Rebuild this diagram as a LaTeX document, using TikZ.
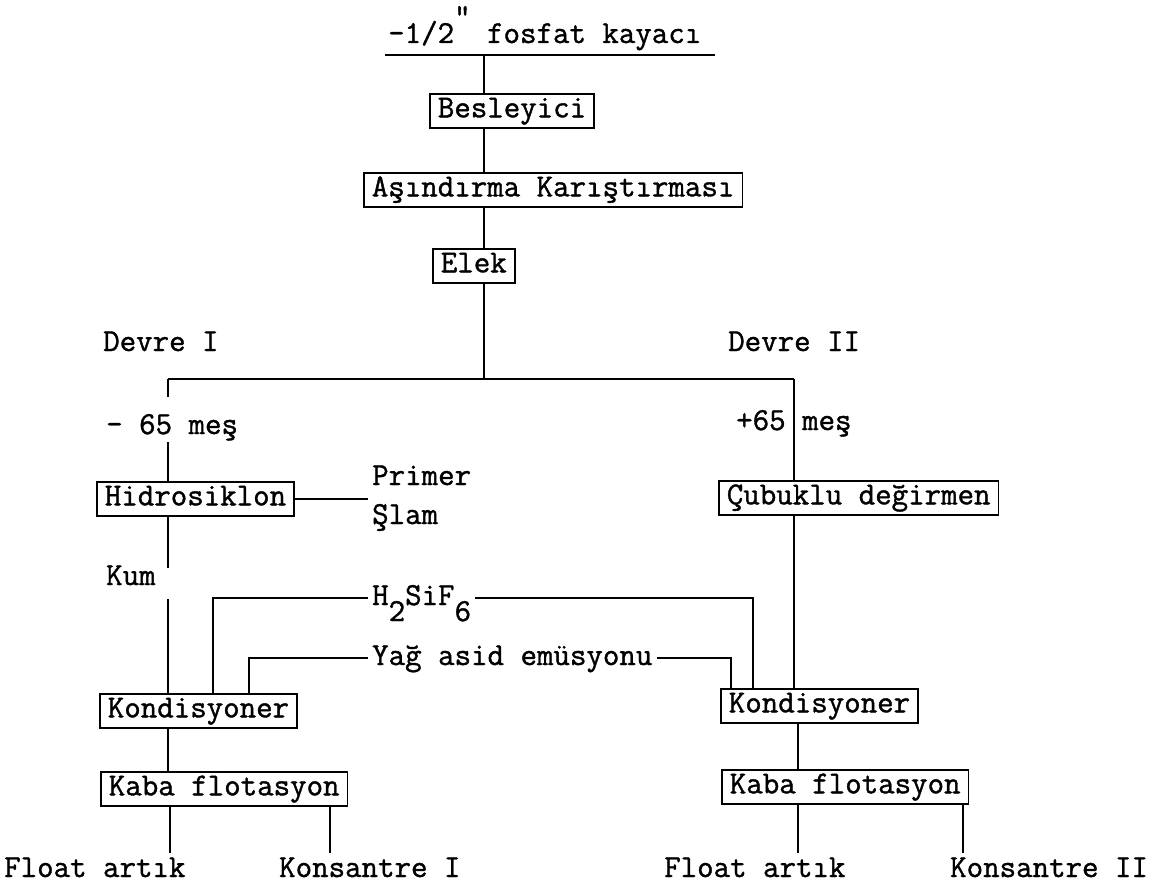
\documentclass[tikz,border=0pt]{standalone}
\usepackage{fontspec}
\newfontfamily\tw[BoldFont={Latin Modern Mono}, BoldFeatures={FakeBold=1.2}]{Latin Modern Mono}
\begin{document}
\begin{tikzpicture}[x=1pt,y=-1pt,
  every node/.style={font=\tw\bfseries\fontsize{32}{34}\selectfont, inner sep=0pt},
  box/.style={draw, line width=1.7pt, inner xsep=8pt, inner ysep=0pt, minimum height=34pt, text height=20pt, text depth=7pt},
  lbl/.style={inner xsep=4pt, inner ysep=0pt, text height=20pt, text depth=6pt},
  outlbl/.style={anchor=base west, inner sep=0pt, text height=24pt, text depth=6pt},
  ln/.style={line width=1.7pt}]
\useasboundingbox (0,0) rectangle (1161,885);
% column coordinates
\coordinate (cM) at (484,0);
\coordinate (cL) at (168,0);
\coordinate (cR) at (794,0);
\coordinate (cR2) at (798,0);
\coordinate (oL1) at (170,0);
\coordinate (oL2) at (330,0);
\coordinate (oR2) at (963,0);
\coordinate (hL) at (213,0);
\coordinate (yL) at (249,0);
\coordinate (hR) at (753,0);
\coordinate (yR) at (731,0);
% title
\node[anchor=base west] (title) at (388,43) {-1/2\raisebox{17pt}{"} fosfat kayacı};
\coordinate (ulL) at (385,55);
\coordinate (ulR) at (715,55);
\draw[ln] (ulL) -- (ulR);
% main column
\node[box, anchor=north west] (besl) at (429,93) {Besleyici};
\node[box, anchor=north west] (asin) at (363,172) {Aşındırma Karıştırması};
\node[box, anchor=north west] (elek) at (432,248) {Elek};
\draw[ln] (ulL -| cM) -- (besl.north -| cM);
\draw[ln] (besl.south -| cM) -- (asin.north -| cM);
\draw[ln] (asin.south -| cM) -- (elek.north -| cM);
% branch
\coordinate (brL) at (168,379);
\coordinate (brR) at (794,379);
\draw[ln] (elek.south -| cM) -- (brL -| cM);
\draw[ln] (brL) -- (brR);
\node[lbl, anchor=west, inner xsep=0pt] (dv1) at (103,344) {Devre I};
\node[lbl, anchor=west, inner xsep=0pt] (dv2) at (728,344) {Devre II};
% left circuit
\node[anchor=base west, inner xsep=0pt, inner ysep=2pt, text height=35pt, text depth=6pt] (m65) at (106,434) {- 65 meş};
\node[box, anchor=north west] (hid) at (96,481) {Hidrosiklon};
\draw[ln] (brL) -- (m65.north -| cL);
\draw[ln] (m65.south -| cL) -- (hid.north -| cL);
\node[lbl, anchor=west] (prim) at (368,478) {Primer};
\node[lbl, anchor=west] (slam) at (368,517) {Şlam};
\draw[ln] (hid.east) -- (hid.east -| prim.west);
\node[anchor=base west, text height=17pt, text depth=14pt] (kum) at (106,585) {Kum};
\node[box, anchor=north west] (kondL) at (99,693) {Kondisyoner};
\node[box, anchor=north west] (kabaL) at (100,771) {Kaba flotasyon};
\draw[ln] (hid.south -| cL) -- (kum.north -| cL);
\draw[ln] (kum.south -| cL) -- (kondL.north -| cL);
\draw[ln] (kondL.south -| cL) -- (kabaL.north -| cL);
\node[outlbl] (fL) at (4,877) {Float artık};
\node[outlbl] (kL) at (279,877) {Konsantre I};
\draw[ln] (kabaL.south -| oL1) -- (fL.north -| oL1);
\draw[ln] (kabaL.south -| oL2) -- (kL.north -| oL2);
% right circuit
\node[lbl, anchor=west, inner xsep=0pt] (p65) at (736,423) {+65 meş};
\node[box, anchor=north west] (cub) at (718,480) {Çubuklu değirmen};
\node[box, anchor=north west] (kondR) at (720,688) {Kondisyoner};
\node[box, anchor=north west] (kabaR) at (721,769) {Kaba flotasyon};
\draw[ln] (brR) -- (cub.north -| cR);
\draw[ln] (cub.south -| cR) -- (kondR.north -| cR);
\draw[ln] (kondR.south -| cR2) -- (kabaR.north -| cR2);
\node[outlbl] (fR) at (664,877) {Float artık};
\node[outlbl] (kR) at (950,877) {Konsantre II};
\draw[ln] (kabaR.south -| cR2) -- (fR.north -| cR2);
\draw[ln] (kabaR.south -| oR2) -- (kR.north -| oR2);
% reagents
\node[lbl, anchor=west] (h2) at (368,598) {H\raisebox{-16pt}{2}SiF\raisebox{-16pt}{6}};
\node[lbl, anchor=west] (yag) at (368,658) {Yağ asid emüsyonu};
\draw[ln] (kondL.north -| hL) -- (h2.west -| hL) -- (h2.west);
\draw[ln] (h2.east) -- (h2.east -| hR) -- (kondR.north -| hR);
\draw[ln] (kondL.north -| yL) -- (yag.west -| yL) -- (yag.west);
\draw[ln] (yag.east) -- (yag.east -| yR) -- (kondR.north -| yR);
\end{tikzpicture}
\end{document}
